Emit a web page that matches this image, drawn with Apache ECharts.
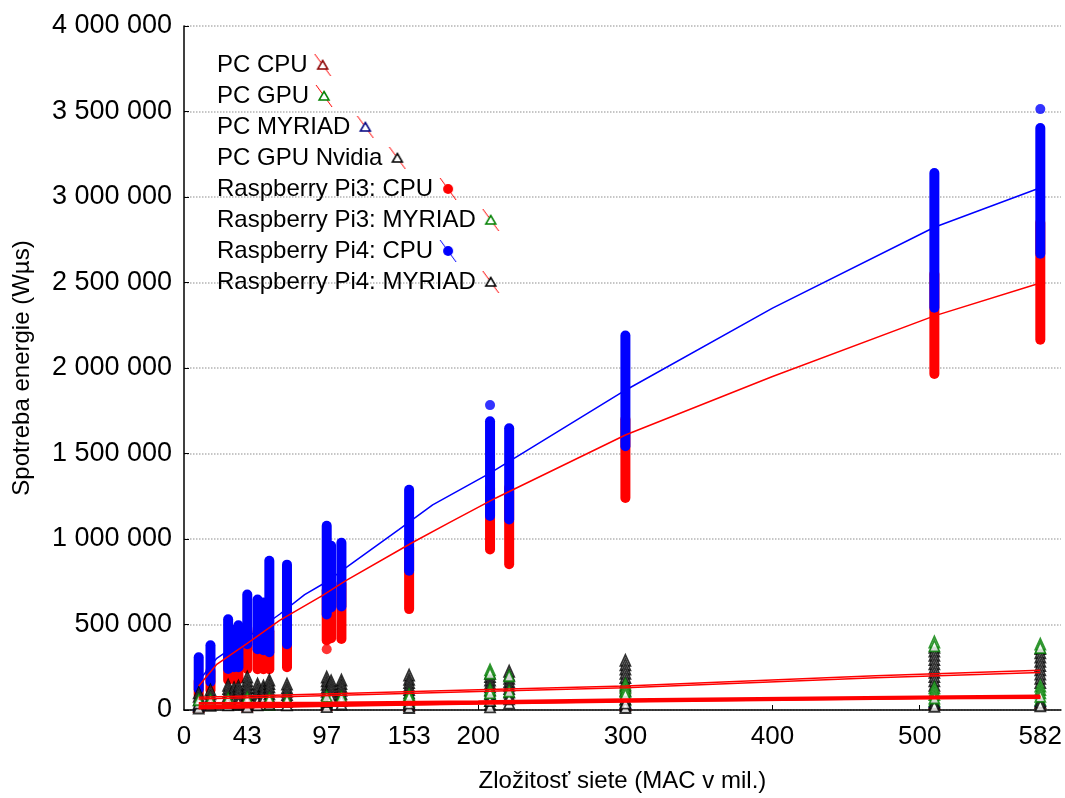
<!DOCTYPE html>
<html lang="sk">
<head>
  <meta charset="UTF-8" />
  <title>Spotreba energie</title>
  <script src="https://cdn.jsdelivr.net/npm/echarts@6/dist/echarts.min.js"></script>
  <style>
    body { margin: 0; background: #fff; }
    #chart { width: 1065px; height: 798px; }
  </style>
</head>
<body>
  <div id="chart"></div>
  <script>
    // siete (MAC v mil.) - x pozície stĺpcov
    const nets = [10, 18, 30, 34, 37, 43, 50, 54, 58, 70, 97, 100, 107, 153, 208, 221, 300, 510, 582];
    // hodnoty v tisícoch Wµs
    const pi4CpuMin = [122, 165, 240, 250, 250, 384, 355, 350, 338, 384, 559, 600, 605, 815, 1135, 1114, 1542, 2352, 2668];
    const pi4CpuMax = [308, 378, 530, 470, 495, 675, 646, 629, 873, 850, 1077, 960, 978, 1288, 1688, 1647, 2190, 3140, 3404];
    const pi3CpuMin = [87, 116, 175, 180, 180, 240, 239, 239, 239, 250, 407, 420, 415, 590, 939, 852, 1240, 1965, 2165];
    const pi3CpuMax = [170, 230, 320, 320, 330, 480, 460, 450, 460, 480, 700, 720, 740, 950, 1300, 1300, 1700, 2550, 2850];
    const pi4CpuExtra = [[208, 1783], [582, 3514]];
    const pi3CpuExtra = [[97, 355]];

    const pi4MyriadPts = [
      [10, 100], [10, 80], [10, 60], [10, 40],
      [18, 116], [18, 95], [18, 75], [18, 55], [18, 35],
      [30, 145], [30, 125], [30, 105], [30, 85], [30, 65], [30, 45],
      [34, 130], [34, 110], [34, 90], [34, 70], [34, 50],
      [37, 140], [37, 120], [37, 100], [37, 80], [37, 60], [37, 40],
      [43, 192], [43, 170], [43, 150], [43, 130], [43, 110], [43, 90], [43, 70], [43, 50],
      [50, 151], [50, 130], [50, 110], [50, 90], [50, 70], [50, 50],
      [54, 140], [54, 120], [54, 100], [54, 80], [54, 60],
      [58, 175], [58, 155], [58, 135], [58, 115], [58, 95], [58, 75], [58, 55],
      [70, 151], [70, 130], [70, 110], [70, 90], [70, 70], [70, 50],
      [97, 192], [97, 170], [97, 150], [97, 130], [97, 110], [97, 90], [97, 70], [97, 50],
      [100, 170], [100, 150], [100, 130], [100, 110], [100, 90], [100, 70],
      [107, 175], [107, 155], [107, 135], [107, 115], [107, 95], [107, 75], [107, 55],
      [153, 204], [153, 180], [153, 160], [153, 140], [153, 120], [153, 100], [153, 80], [153, 60], [153, 40],
      [208, 215], [208, 195], [208, 175], [208, 155], [208, 135], [208, 115], [208, 95], [208, 75], [208, 55],
      [221, 227], [221, 205], [221, 185], [221, 165], [221, 145], [221, 125], [221, 105], [221, 85], [221, 65],
      [300, 290], [300, 265], [300, 240], [300, 215], [300, 190], [300, 165], [300, 140], [300, 115], [300, 90], [300, 65], [300, 40],
      [510, 367], [510, 345], [510, 320], [510, 295], [510, 270], [510, 245], [510, 220], [510, 195], [510, 170], [510, 145],
      [582, 360], [582, 335], [582, 310], [582, 285], [582, 260], [582, 235], [582, 210], [582, 185], [582, 160]
    ];
    const pcNvidiaPts = [
      [10, 25], [18, 28], [30, 30], [37, 35], [43, 35], [50, 30], [58, 35], [70, 30],
      [97, 35], [107, 35], [153, 25], [208, 35], [221, 40], [300, 25], [510, 40], [582, 45],
      [10, 12], [43, 18], [97, 20], [153, 15], [208, 18], [300, 15], [510, 22], [582, 25]
    ];
    const pi3MyriadPts = [
      [10, 60], [18, 60], [30, 65], [43, 70], [58, 65], [70, 60], [97, 80], [107, 75],
      [153, 90], [153, 75], [208, 235], [208, 215], [208, 120], [208, 100], [221, 200], [221, 110],
      [300, 150], [300, 130], [300, 110], [300, 90],
      [510, 398], [510, 375], [510, 130], [510, 110], [510, 90], [510, 70],
      [582, 385], [582, 365], [582, 140], [582, 120], [582, 100], [582, 80]
    ];
    const pcGpuPts = [
      [43, 40], [58, 35], [97, 45], [153, 50], [208, 55], [300, 60], [510, 55], [582, 60]
    ];
    const pcCpuPts = [[10, 20], [43, 25], [97, 30], [153, 30], [300, 35], [510, 40], [582, 45]];
    const pcMyriadPts = [[10, 30], [43, 35], [97, 40], [153, 40], [300, 45], [510, 50], [582, 55]];

    // regresné krivky
    const fitPi4Cpu = [[10, 170], [22, 300], [43, 425], [65, 560], [82, 675], [97, 750], [112, 844], [146, 1055],
      [169, 1200], [208, 1385], [300, 1870], [400, 2350], [510, 2823], [582, 3054]];
    const fitPi3Cpu = [[10, 140], [22, 265], [43, 390], [65, 524], [94, 669], [110, 757], [155, 978],
      [180, 1094], [212, 1240], [300, 1608], [400, 1950], [510, 2305], [582, 2497]];
    const fitPi3Myriad = [[10, 75], [100, 95], [200, 118], [300, 140], [470, 200], [582, 232]];
    const fitPi4Myriad = [[10, 65], [100, 85], [200, 108], [300, 130], [470, 188], [582, 220]];
    const fitPcNvidia = [[10, 40], [100, 42], [200, 50], [300, 62], [500, 78], [582, 84]];
    const fitPcGpu = [[10, 25], [100, 32], [200, 42], [300, 55], [500, 72], [582, 76]];
    const fitPcCpu = [[10, 10], [100, 25], [200, 38], [300, 50], [500, 68], [582, 72]];
    const fitPcMyriad = [[10, 15], [100, 28], [200, 40], [300, 52], [500, 70], [582, 74]];

    const xLabels = [0, 43, 97, 153, 200, 300, 400, 500, 582];
    const xTicks = [100, 200, 300, 400, 500];

    const legendNames = ['PC CPU', 'PC GPU', 'PC MYRIAD', 'PC GPU Nvidia', 'Raspberry Pi3: CPU',
      'Raspberry Pi3: MYRIAD', 'Raspberry Pi4: CPU', 'Raspberry Pi4: MYRIAD'];
    const legendColors = ['#8b0000', '#008000', '#000080', '#000', '#ff0000', '#008000', '#0000ff', '#000'];
    const lineColors = ['#ff0000', '#ff0000', '#ff0000', '#ff0000', '#ff0000', '#ff0000', '#0000ff', '#ff0000'];
    const filled = [false, false, false, false, true, false, true, false];

    const FONT = 'Liberation Sans, Arial, sans-serif';
    const k = pts => pts.map(p => [p[0], p[1] * 1000]);
    const cols = (mins, maxs) => nets.map((x, i) => [x, mins[i] * 1000, maxs[i] * 1000]);

    // malá ikonka do legendy: symbol + šikmá čiara regresie
    const legendIcon = i => {
      const c = document.createElement('canvas');
      c.width = 18; c.height = 22;
      const g = c.getContext('2d');
      g.strokeStyle = lineColors[i]; g.lineWidth = 1;
      g.beginPath(); g.moveTo(1, 0); g.lineTo(17, 22); g.stroke();
      if (filled[i]) {
        g.fillStyle = legendColors[i];
        g.beginPath(); g.arc(9, 11, 5, 0, Math.PI * 2); g.fill();
      } else {
        g.fillStyle = '#fff'; g.strokeStyle = legendColors[i]; g.lineWidth = 1.5;
        g.beginPath(); g.moveTo(9, 6.5); g.lineTo(14, 15); g.lineTo(4, 15); g.closePath();
        g.fill(); g.stroke();
      }
      return c;
    };
    const legendRich = { sp: { width: 6 } };
    legendNames.forEach((n, i) => {
      legendRich['i' + i] = { width: 18, height: 22, backgroundColor: { image: legendIcon(i) } };
    });

    const column = (name, color, mins, maxs) => ({
      name, type: 'custom', z: 2,
      data: cols(mins, maxs),
      encode: { x: 0, y: [1, 2] },
      renderItem: (params, api) => {
        const top = api.coord([api.value(0), api.value(2)]);
        const bot = api.coord([api.value(0), api.value(1)]);
        return {
          type: 'rect',
          shape: { x: top[0] - 5, y: top[1] - 5, width: 10, height: bot[1] - top[1] + 10, r: 5 },
          style: { fill: color }
        };
      }
    });
    const dots = (name, color, pts) => ({
      name, type: 'scatter', z: 2, symbol: 'circle', symbolSize: 10,
      itemStyle: { color }, data: k(pts)
    });
    const tri = (name, color, pts) => ({
      name, type: 'scatter', z: 3, symbol: 'triangle', symbolSize: [10, 11],
      itemStyle: { color: '#fff', borderColor: color, borderWidth: 1.8 }, data: k(pts)
    });
    const fit = (name, color, pts, w) => ({
      name, type: 'line', z: 5, showSymbol: false, symbol: 'none',
      lineStyle: { color, width: w }, data: k(pts)
    });

    const chart = echarts.init(document.getElementById('chart'));
    chart.setOption({
      animation: false,
      backgroundColor: '#fff',
      grid: { left: 184, top: 26, width: 880, height: 687 },
      legend: {
        orient: 'vertical', left: 207, top: 48, selectedMode: false, itemGap: 7,
        icon: 'none', itemWidth: 0, itemHeight: 0,
        textStyle: { fontFamily: FONT, fontSize: 24, lineHeight: 24, color: '#000', rich: legendRich },
        formatter: name => name + '{sp|}{i' + legendNames.indexOf(name) + '|}',
        data: legendNames
      },
      xAxis: {
        type: 'value', min: 0, max: 596,
        name: 'Zložitosť siete (MAC v mil.)', nameLocation: 'middle', nameGap: 59,
        nameTextStyle: { fontFamily: FONT, fontSize: 24, color: '#000' },
        axisLine: { lineStyle: { color: '#000', width: 1.5 } },
        axisTick: { inside: true, length: 5, customValues: xTicks, lineStyle: { color: '#000' } },
        axisLabel: { customValues: xLabels, fontFamily: FONT, fontSize: 26, color: '#000', margin: 14 },
        splitLine: { show: false }
      },
      yAxis: {
        type: 'value', min: 0, max: 4000000, interval: 500000,
        name: 'Spotreba energie (Wµs)', nameLocation: 'middle', nameGap: 150,
        nameTextStyle: { fontFamily: FONT, fontSize: 24, color: '#000' },
        axisLine: { show: true, lineStyle: { color: '#000', width: 1.5 } },
        axisTick: { show: true, inside: true, length: 5, lineStyle: { color: '#000' } },
        axisLabel: {
          fontFamily: FONT, fontSize: 27, color: '#000', margin: 12,
          formatter: v => String(v).replace(/\B(?=(\d{3})+(?!\d))/g, ' ')
        },
        splitLine: { show: true, lineStyle: { color: '#b4b4b4', type: 'dotted', width: 1.5 } }
      },
      series: [
        column('Raspberry Pi3: CPU', '#ff0000', pi3CpuMin, pi3CpuMax),
        dots('Raspberry Pi3: CPU', '#ff0000', pi3CpuExtra),
        column('Raspberry Pi4: CPU', '#0000ff', pi4CpuMin, pi4CpuMax),
        dots('Raspberry Pi4: CPU', '#0000ff', pi4CpuExtra),
        tri('PC CPU', '#8b0000', pcCpuPts),
        tri('PC MYRIAD', '#000080', pcMyriadPts),
        tri('PC GPU', '#008000', pcGpuPts),
        tri('PC GPU Nvidia', '#000', pcNvidiaPts),
        tri('Raspberry Pi4: MYRIAD', '#000', pi4MyriadPts),
        tri('Raspberry Pi3: MYRIAD', '#008000', pi3MyriadPts),
        fit('fit Pi3 CPU', '#ff0000', fitPi3Cpu, 1.5),
        fit('fit Pi4 CPU', '#0000ff', fitPi4Cpu, 1.5),
        fit('fit Pi3 MYRIAD', '#ff0000', fitPi3Myriad, 1.5),
        fit('fit Pi4 MYRIAD', '#ff0000', fitPi4Myriad, 1.5),
        fit('fit PC GPU Nvidia', '#ff0000', fitPcNvidia, 2.5),
        fit('fit PC GPU', '#ff0000', fitPcGpu, 2.5),
        fit('fit PC CPU', '#ff0000', fitPcCpu, 2.5),
        fit('fit PC MYRIAD', '#ff0000', fitPcMyriad, 2.5)
      ]
    });
  </script>
</body>
</html>
